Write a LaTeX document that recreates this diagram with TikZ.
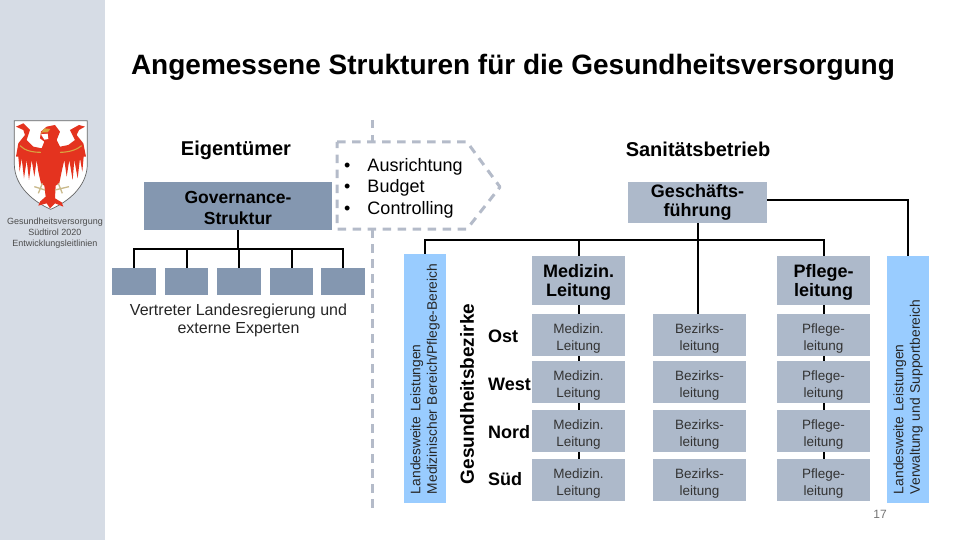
\documentclass[tikz,border=0pt]{standalone}
\usepackage{fontspec}
\setmainfont{Liberation Sans}
\definecolor{side}{HTML}{D6DCE5}
\definecolor{gov}{HTML}{8497B0}
\definecolor{lite}{HTML}{ADB9CA}
\definecolor{sky}{HTML}{99CCFF}
\definecolor{dash}{HTML}{B4BBC9}
\definecolor{eagle}{HTML}{E4331F}
\definecolor{golden}{HTML}{D9A441}
\definecolor{tan}{HTML}{C9B98A}
\newcommand{\cellstrut}{\rule{0pt}{16pt}}
\newcommand{\headstrut}{\rule{0pt}{17.3pt}}
\tikzset{
 fs/.style n args={2}{font=\fontsize{#1}{#2}\selectfont},
 fb/.style n args={2}{font=\fontsize{#1}{#2}\selectfont\bfseries},
 block/.style={fill=lite,inner sep=0pt,align=center,minimum width=93pt},
 headbox/.style={block,minimum height=49pt,fb={18}{19.5}},
 cell/.style={block,minimum height=42pt,fs={13.5}{17},text=black!80},
 small/.style={fill=gov,inner sep=0pt,minimum height=27pt},
 skybox/.style={fill=sky,rotate=90,inner xsep=9pt,inner ysep=0pt,minimum height=42pt,text width=231pt,align=left,fs={13.8}{16.5},text=black!85},
 dist/.style={anchor=west,inner sep=0pt,fb={18}{20}},
 thinl/.style={line width=1.1pt},
 boldl/.style={line width=2pt},
 dashl/.style={draw=dash,line width=3pt,dash pattern=on 8.5pt off 6.5pt},
}
\begin{document}
\begin{tikzpicture}[x=1pt,y=-1pt]
\useasboundingbox (0,0) rectangle (960,540);
\fill[side] (0,0) rectangle (105,540);
% coat of arms
\begin{scope}[shift={(5,115)},x=0.3333pt,y=-0.3333pt]
\path[fill=white,draw=black!60,line width=.7pt] (28,17) -- (247,17) -- (247,150) .. controls (245,215) and (190,260) .. (137,283) .. controls (85,260) and (30,215) .. (28,150) -- cycle;
\fill[eagle] (125,35) -- (150,30) -- (165,50) -- (155,75) -- (165,95) -- (190,90) -- (210,75) -- (195,45) -- (222,30) -- (240,35) -- (222,45) -- (215,60) -- (235,85) -- (243,125) -- (236,125) -- (232,170) -- (225,130) -- (218,190) -- (208,135) -- (203,195) -- (193,135) -- (185,185) -- (178,135) -- (170,170) -- (163,205) -- (152,212) -- (150,250) -- (170,262) -- (175,275) -- (150,265) -- (135,280) -- (125,265) -- (100,272) -- (105,260) -- (122,245) -- (118,212) -- (108,205) -- (100,170) -- (95,135) -- (88,185) -- (80,135) -- (72,195) -- (65,135) -- (57,190) -- (50,130) -- (44,170) -- (40,125) -- (33,125) -- (40,85) -- (60,60) -- (55,45) -- (33,35) -- (55,25) -- (75,45) -- (65,75) -- (85,95) -- (110,100) -- (118,80) -- (105,70) -- (108,50) -- cycle;
\fill[golden] (106,58) -- (118,40) -- (136,42) -- (128,52) -- (113,52) -- cycle;
\fill[white] (108,58) -- (128,56) -- (130,72) -- (118,74) -- cycle;
\draw[golden,line width=1.1pt] (45,92) .. controls (60,108) and (85,112) .. (108,112);
\draw[golden,line width=1.1pt] (165,112) .. controls (190,112) and (215,105) .. (230,92);
\draw[tan,line width=1.3pt] (88,215) -- (120,225) (112,205) -- (100,235) (150,225) -- (192,215) (160,205) -- (172,235);
\end{scope}
\node[fs={9}{11},align=center,inner sep=0pt,text=black!70] (sidetext) at (55,233) {Gesundheitsversorgung\\Südtirol 2020\\Entwicklungsleitlinien};
% title
\node[fb={28}{30},inner sep=0pt] (title) at (513,67) {Angemessene Strukturen für die Gesundheitsversorgung};
% owner side
\node[fb={20}{22},inner sep=0pt] (owner) at (236,150) {Eigentümer};
\node[fill=gov,inner sep=0pt,minimum width=188pt,minimum height=48pt,fb={17.5}{21},align=center] (govbox) at (238,206) {\rule{0pt}{16.5pt}Governance-\\Struktur};
\node[small,minimum width=44pt] (s1) at (134,281.5) {};
\node[small,minimum width=43pt] (s2) at (186.5,281.5) {};
\node[small,minimum width=44pt] (s3) at (239,281.5) {};
\node[small,minimum width=43pt] (s4) at (291.5,281.5) {};
\node[small,minimum width=44pt] (s5) at (343,281.5) {};
\coordinate (busg) at (238,249);
\draw[boldl] (govbox.south) -- (busg);
\draw[boldl] (s1.north) |- (busg) -| (s5.north);
\draw[boldl] (s2.north) -- (s2.north |- busg);
\draw[boldl] (s3.north) -- (s3.north |- busg);
\draw[boldl] (s4.north) -- (s4.north |- busg);
\node[fs={16}{18},align=center,inner sep=0pt,text=black!85] (vertreter) at (238.5,320) {Vertreter Landesregierung und\\externe Experten};
% separator
\coordinate (d1) at (372,120);
\coordinate (d2) at (372,142);
\coordinate (d3) at (372,229);
\coordinate (d4) at (372,508);
\draw[dashl] (d1) -- (d2);
\draw[dashl] (d3) -- (d4);
\draw[dashl,line join=round] (337,142) -- (467,142) -- (500,187) -- (467,229) -- (337,229) -- cycle;
\node[fs={18}{21.5},anchor=west,inner sep=0pt,align=left] (bullets) at (344,188) {•\hspace{17pt}Ausrichtung\\•\hspace{17pt}Budget\\•\hspace{17pt}Controlling};
% operator side
\node[fb={20}{22},inner sep=0pt] (operator) at (698,149.5) {Sanitätsbetrieb};
\node[block,minimum width=139pt,minimum height=41pt,fb={18}{19}] (gf) at (697.5,202.5) {Geschäfts-\\führung};
\node[skybox] (skyl) at (425,378.5) {Landesweite Leistungen\\Medizinischer Bereich/Pflege-Bereich};
\node[skybox,text width=229pt] (skyr) at (908,379.5) {Landesweite Leistungen\\Verwaltung und Supportbereich};
\node[fb={19}{20},rotate=90,inner sep=0pt] (gb) at (467,394) {Gesundheitsbezirke};
\node[headbox] (hm) at (578.5,280.5) {\headstrut Medizin.\\Leitung};
\node[headbox] (hp) at (823.5,280.5) {\headstrut Pflege-\\leitung};
% rows
\foreach \n/\y in {1/335,2/382,3/431,4/480}{
 \node[cell] (m\n) at (578.5,\y) {\cellstrut Medizin.\\Leitung};
 \node[cell] (b\n) at (699.5,\y) {\cellstrut Bezirks-\\leitung};
 \node[cell] (p\n) at (823.5,\y) {\cellstrut Pflege-\\leitung};
}
\node[dist] (ost) at (488,336) {Ost};
\node[dist] (west) at (488,384) {West};
\node[dist] (nord) at (488,432) {Nord};
\node[dist] (sued) at (488,479) {Süd};
% connectors
\coordinate (bus) at (698,240);
\draw[thinl] ([yshift=2.5pt]gf.east) -| (skyr.east);
\draw[thinl] (skyl.east) |- (hm.north |- bus);
\draw[boldl] (hm.north) |- (bus) -| (hp.north);
\draw[boldl] (gf.south -| bus) -- (bus);
\draw[thinl] (bus) -- (bus |- b1.north);
\draw[boldl] (hm.south) -- (m1.north);
\draw[boldl] (hp.south) -- (p1.north);
\draw[boldl] (m1) -- (m2);
\draw[boldl] (m2) -- (m3);
\draw[boldl] (m3) -- (m4);
\draw[boldl] (p1) -- (p2);
\draw[boldl] (p2) -- (p3);
\draw[boldl] (p3) -- (p4);
\node[fs={12}{13},inner sep=0pt,text=black!55] (page) at (880,514) {17};
\end{tikzpicture}
\end{document}
